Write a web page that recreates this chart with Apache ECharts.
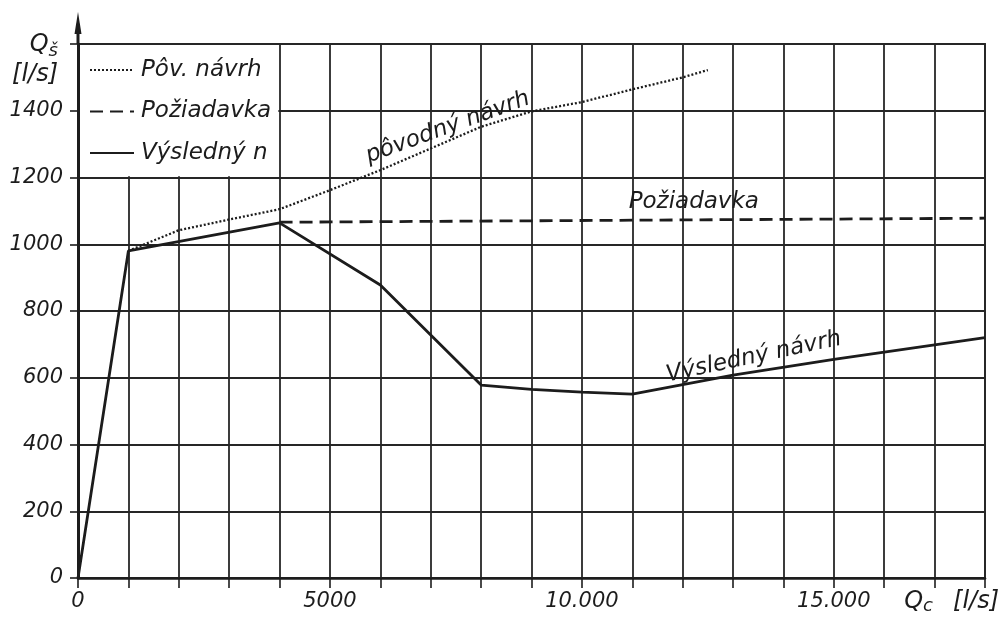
<!DOCTYPE html>
<html>
<head>
<meta charset="utf-8">
<script src="https://cdn.jsdelivr.net/npm/echarts@6/dist/echarts.min.js"></script>
<style>html,body{margin:0;padding:0;background:#fff}#c{width:1005px;height:623px}</style>
</head>
<body>
<div id="c"></div>
<script>
// ---- data ----
const seriesNames = ['Pôv. návrh', 'Požiadavka', 'Výsledný návrh'];
const legendTexts = ['Pôv. návrh', 'Požiadavka', 'Výsledný n'];
const inlineTexts = ['pôvodný návrh', 'Požiadavka', 'Výsledný návrh'];

const povX = [1000, 2000, 3000, 4000, 5000, 6000, 7000, 8000, 9000, 10000, 11000, 12000, 12500];
const povY = [980, 1042, 1074, 1105, 1162, 1222, 1287, 1352, 1398, 1426, 1464, 1500, 1522];

const pozX = [4000, 18000];
const pozY = [1066, 1078];

const vysX = [0, 1000, 4000, 6000, 8000, 9000, 10000, 11000, 13000, 15000, 18000];
const vysY = [0, 980, 1064, 878, 578, 565, 557, 551, 608, 655, 720];

const xTickValues = [0, 5000, 10000, 15000];
const xTickTexts = ['0', '5000', '10.000', '15.000'];
const yTickValues = [0, 200, 400, 600, 800, 1000, 1200, 1400];
const yTickTexts = ['0', '200', '400', '600', '800', '1000', '1200', '1400'];

// ---- chart ----
const INK = '#1c1c1c';
const FONT = 'DejaVu Sans';
const zip = (xs, ys) => xs.map((x, i) => [x, ys[i]]);

const chart = echarts.init(document.getElementById('c'), null, {renderer: 'canvas'});

const textBase = {fontFamily: FONT, fontStyle: 'italic', color: INK};

function inlineLabel(coord, text, rotate) {
  return {
    symbol: 'circle', symbolSize: 0, silent: true,
    data: [{coord: coord, value: text}],
    label: Object.assign({show: true, position: 'inside', formatter: text, rotate: rotate, fontSize: 23}, textBase)
  };
}

const option = {
  animation: false,
  backgroundColor: '#fff',
  grid: {left: 78, right: 20, top: 44, bottom: 45, show: true, borderColor: INK, borderWidth: 1.8, backgroundColor: 'transparent'},
  xAxis: {
    type: 'value', min: 0, max: 18000, interval: 1000,
    axisLine: {show: true, onZero: false, lineStyle: {color: INK, width: 2.6}},
    axisTick: {show: true, inside: false, length: 10, lineStyle: {color: INK, width: 1.6}},
    splitLine: {show: true, lineStyle: {color: '#262626', width: 1.8}},
    axisLabel: Object.assign({
      margin: 13, fontSize: 21,
      formatter: v => { const i = xTickValues.indexOf(v); return i >= 0 ? xTickTexts[i] : ''; }
    }, textBase),
    name: '{q|Q}{s|c}{u|[l/s]}',
    nameLocation: 'end', nameGap: 14,
    nameTextStyle: Object.assign({
      align: 'right', verticalAlign: 'top', padding: [11, 0, 0, 0],
      rich: {
        q: Object.assign({fontSize: 24}, textBase),
        s: Object.assign({fontSize: 18, verticalAlign: 'bottom', padding: [8, 0, 0, 0]}, textBase),
        u: Object.assign({fontSize: 24, padding: [0, 0, 0, 20]}, textBase)
      }
    }, textBase)
  },
  yAxis: {
    type: 'value', min: 0, max: 1600, interval: 200,
    axisLine: {show: true, onZero: false, lineStyle: {color: INK, width: 3}},
    axisTick: {show: true, inside: false, length: 8, lineStyle: {color: INK, width: 1.6}},
    splitLine: {show: true, lineStyle: {color: '#262626', width: 1.8}},
    axisLabel: Object.assign({
      margin: 15, fontSize: 21,
      formatter: v => { const i = yTickValues.indexOf(v); return i >= 0 ? yTickTexts[i] : ''; }
    }, textBase),
    name: '{q|Q}{s|š}\n{u|[l/s]}',
    nameLocation: 'end', nameGap: 14,
    nameTextStyle: Object.assign({
      align: 'right', verticalAlign: 'top', padding: [0, 20, 0, 0], lineHeight: 30,
      rich: {
        q: Object.assign({fontSize: 24, lineHeight: 30}, textBase),
        s: Object.assign({fontSize: 18, lineHeight: 30, verticalAlign: 'bottom'}, textBase),
        u: Object.assign({fontSize: 24, lineHeight: 30}, textBase)
      }
    }, textBase)
  },
  legend: {
    orient: 'vertical', left: 84, top: 53, itemWidth: 44, itemHeight: 24, itemGap: 17.5,
    z: 5, selectedMode: false,
    data: seriesNames,
    itemStyle: {opacity: 0},
    formatter: name => legendTexts[seriesNames.indexOf(name)],
    textStyle: Object.assign({fontSize: 23, lineHeight: 24, padding: [0, 0, 0, 2]}, textBase)
  },
  series: [
    {
      name: seriesNames[0], type: 'line', data: zip(povX, povY),
      symbol: 'none', showSymbol: false, z: 2,
      lineStyle: {color: INK, width: 2.3, type: [2, 2]},
      itemStyle: {color: INK},
      markPoint: inlineLabel([7340, 1350], inlineTexts[0], 20)
    },
    {
      name: seriesNames[1], type: 'line', data: zip(pozX, pozY),
      symbol: 'none', showSymbol: false, z: 2,
      lineStyle: {color: INK, width: 2.8, type: [13, 7]},
      itemStyle: {color: INK},
      markPoint: inlineLabel([12220, 1126], inlineTexts[1], 0)
    },
    {
      name: seriesNames[2], type: 'line', data: zip(vysX, vysY),
      symbol: 'none', showSymbol: false, z: 2,
      lineStyle: {color: INK, width: 2.8},
      itemStyle: {color: INK},
      markPoint: inlineLabel([13410, 662], inlineTexts[2], 12)
    }
  ]
};
chart.setOption(option);

// decorations derived from the axes: legend backdrop and y-axis arrow
const pTop = chart.convertToPixel({gridIndex: 0}, [0, 1600]);
const pBox = chart.convertToPixel({gridIndex: 0}, [4000, 1200]);
chart.setOption({
  graphic: [
    {type: 'rect', z: 3, silent: true,
     shape: {x: pTop[0] + 2, y: pTop[1] + 1, width: pBox[0] - pTop[0] - 3.2, height: pBox[1] - pTop[1] - 2.2},
     style: {fill: '#fff'}},
    {type: 'line', z: 6, silent: true,
     shape: {x1: pTop[0], y1: pTop[1], x2: pTop[0], y2: pTop[1] - 20},
     style: {stroke: INK, lineWidth: 3}},
    {type: 'polygon', z: 6, silent: true,
     shape: {points: [[pTop[0], pTop[1] - 32], [pTop[0] - 3.5, pTop[1] - 10], [pTop[0] + 3.5, pTop[1] - 10]]},
     style: {fill: INK}}
  ]
});
</script>
</body>
</html>
